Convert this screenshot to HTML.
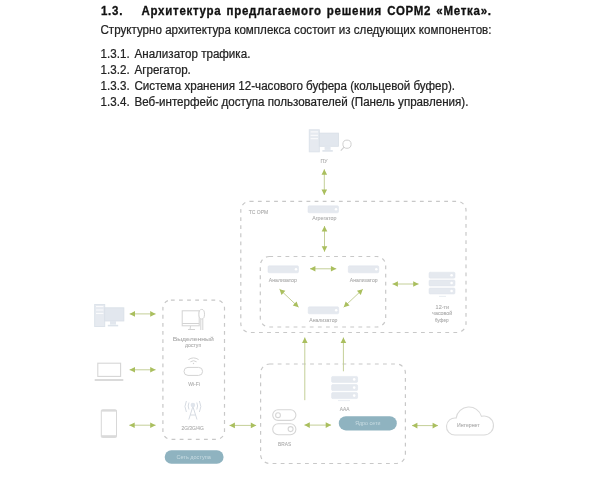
<!DOCTYPE html>
<html><head><meta charset="utf-8">
<style>
html,body{margin:0;padding:0;background:#fff;width:600px;height:489px;overflow:hidden;position:relative}
body{font-family:"Liberation Sans",sans-serif;color:#222}
.t{position:absolute;white-space:nowrap;line-height:1;transform-origin:0 0;filter:blur(0.25px)}
.h{font-weight:bold;font-size:11.5px;letter-spacing:0.72px;word-spacing:1.2px;color:#111;transform:scaleY(1.1);-webkit-text-stroke:0.3px #111}
.p{font-size:11.6px;color:#222;transform:scaleY(1.04);-webkit-text-stroke:0.22px #222}
svg{position:absolute;left:0;top:0}
</style></head><body>
<div class="t h" style="left:101px;top:5.4px">1.3.</div>
<div class="t h" style="left:141.5px;top:5.4px">Архитектура предлагаемого решения СОРМ2 «Метка».</div>
<div class="t p" style="left:100.5px;top:23.9px">Структурно архитектура комплекса состоит из следующих компонентов:</div>
<div class="t p" style="left:100.6px;top:48.3px">1.3.1.</div><div class="t p" style="left:134.5px;top:48.3px">Анализатор трафика.</div>
<div class="t p" style="left:100.6px;top:64.2px">1.3.2.</div><div class="t p" style="left:134.5px;top:64.2px">Агрегатор.</div>
<div class="t p" style="left:100.6px;top:80.0px">1.3.3.</div><div class="t p" style="left:134.5px;top:80.0px">Система хранения 12-часового буфера (кольцевой буфер).</div>
<div class="t p" style="left:100.6px;top:95.9px">1.3.4.</div><div class="t p" style="left:134.5px;top:95.9px">Веб-интерфейс доступа пользователей (Панель управления).</div>
<svg width="600" height="489" viewBox="0 0 600 489" style="filter:blur(0.55px)">

<g fill="none" stroke="#c8c8c8" stroke-width="1.2" stroke-dasharray="3.8 4.3">
<rect x="240.8" y="201.3" width="225.2" height="131.2" rx="9"/>
<rect x="260.3" y="256.5" width="125.4" height="70.5" rx="9"/>
<rect x="162.9" y="300.1" width="61.6" height="139.2" rx="8"/>
<rect x="260.6" y="364" width="144.8" height="99.5" rx="9"/>
</g>
<g stroke="#c4cf98" stroke-width="1"><line x1="324.3" y1="169.3" x2="324.3" y2="195"/><line x1="324.5" y1="226" x2="324.5" y2="251.7"/><line x1="310" y1="268.8" x2="336.3" y2="268.8"/><line x1="279.5" y1="289.2" x2="298.6" y2="307.2"/><line x1="362.8" y1="289.2" x2="343.7" y2="307.2"/><line x1="392.5" y1="284" x2="418.6" y2="284"/><line x1="129.6" y1="313.9" x2="155.6" y2="313.9"/><line x1="129.6" y1="369.8" x2="155.6" y2="369.8"/><line x1="129.3" y1="425.2" x2="155.6" y2="425.2"/><line x1="229.5" y1="425.4" x2="256.2" y2="425.4"/><line x1="304.4" y1="425.1" x2="331.1" y2="425.1"/><line x1="412" y1="425.6" x2="438" y2="425.6"/><line x1="304.8" y1="400.2" x2="304.8" y2="337.5"/><line x1="343.4" y1="371.3" x2="343.4" y2="337.5"/></g>
<path fill="#aabf5e" d="M324.30,195.00L321.50,189.60L327.10,189.60ZM324.30,169.30L327.10,174.70L321.50,174.70ZM324.50,251.70L321.70,246.30L327.30,246.30ZM324.50,226.00L327.30,231.40L321.70,231.40ZM336.30,268.80L330.90,271.60L330.90,266.00ZM310.00,268.80L315.40,266.00L315.40,271.60ZM298.60,307.20L292.75,305.53L296.59,301.46ZM279.50,289.20L285.35,290.87L281.51,294.94ZM343.70,307.20L345.71,301.46L349.55,305.53ZM362.80,289.20L360.79,294.94L356.95,290.87ZM418.60,284.00L413.20,286.80L413.20,281.20ZM392.50,284.00L397.90,281.20L397.90,286.80ZM155.60,313.90L150.20,316.70L150.20,311.10ZM129.60,313.90L135.00,311.10L135.00,316.70ZM155.60,369.80L150.20,372.60L150.20,367.00ZM129.60,369.80L135.00,367.00L135.00,372.60ZM155.60,425.20L150.20,428.00L150.20,422.40ZM129.30,425.20L134.70,422.40L134.70,428.00ZM256.20,425.40L250.80,428.20L250.80,422.60ZM229.50,425.40L234.90,422.60L234.90,428.20ZM331.10,425.10L325.70,427.90L325.70,422.30ZM304.40,425.10L309.80,422.30L309.80,427.90ZM438.00,425.60L432.60,428.40L432.60,422.80ZM412.00,425.60L417.40,422.80L417.40,428.40ZM304.80,337.50L307.60,342.90L302.00,342.90ZM343.40,337.50L346.20,342.90L340.60,342.90Z"/>
<g transform="translate(308.8,129.3)">
<rect x="0.5" y="0.5" width="10" height="22" fill="#e6eaf0" stroke="#dde3ea" stroke-width="1"/>
<rect x="10.5" y="3.8" width="19.2" height="13.2" fill="#e2e7ee" stroke="#d9dfe7" stroke-width="0.8"/>
<rect x="15.8" y="17" width="6" height="3.6" fill="#e2e7ee"/>
<rect x="13.6" y="20.8" width="10.4" height="1.6" fill="#dde3ea"/>
<g stroke="#fff" stroke-width="0.9">
<line x1="1.8" y1="2.6" x2="9.2" y2="2.6"/>
<line x1="1.8" y1="6" x2="9.2" y2="6"/>
<line x1="1.8" y1="9.4" x2="9.2" y2="9.4"/>
</g>
</g>
<circle cx="347" cy="144.2" r="4.1" fill="none" stroke="#cfcfcf" stroke-width="1"/>
<line x1="344.1" y1="147.1" x2="340.8" y2="150.6" stroke="#cfcfcf" stroke-width="1.1"/>
<g transform="translate(94.2,304)">
<rect x="0.5" y="0.5" width="10" height="22" fill="#e6eaf0" stroke="#dde3ea" stroke-width="1"/>
<rect x="10.5" y="3.8" width="19.2" height="13.2" fill="#e2e7ee" stroke="#d9dfe7" stroke-width="0.8"/>
<rect x="15.8" y="17" width="6" height="3.6" fill="#e2e7ee"/>
<rect x="13.6" y="20.8" width="10.4" height="1.6" fill="#dde3ea"/>
<g stroke="#fff" stroke-width="0.9">
<line x1="1.8" y1="2.6" x2="9.2" y2="2.6"/>
<line x1="1.8" y1="6" x2="9.2" y2="6"/>
<line x1="1.8" y1="9.4" x2="9.2" y2="9.4"/>
</g>
</g>
<g transform="translate(308,205.8)">
<rect x="0" y="0" width="30.5" height="7" rx="1.2" fill="#e5e9ef" stroke="#dde3ea" stroke-width="0.5"/>
<circle cx="28" cy="3.5" r="1.25" fill="#fff"/>
</g>
<g transform="translate(268,265.8)">
<rect x="0" y="0" width="30.5" height="7" rx="1.2" fill="#e5e9ef" stroke="#dde3ea" stroke-width="0.5"/>
<circle cx="28" cy="3.5" r="1.25" fill="#fff"/>
</g>
<g transform="translate(348.3,265.8)">
<rect x="0" y="0" width="30.5" height="7" rx="1.2" fill="#e5e9ef" stroke="#dde3ea" stroke-width="0.5"/>
<circle cx="28" cy="3.5" r="1.25" fill="#fff"/>
</g>
<g transform="translate(308.2,306.8)">
<rect x="0" y="0" width="30.5" height="7" rx="1.2" fill="#e5e9ef" stroke="#dde3ea" stroke-width="0.5"/>
<circle cx="28" cy="3.5" r="1.25" fill="#fff"/>
</g>
<g transform="translate(429,272.2)">
<rect x="0" y="0" width="26" height="6" rx="1.2" fill="#e5e9ef" stroke="#dde3ea" stroke-width="0.5"/>
<circle cx="22.6" cy="3" r="1.3" fill="#fff"/>
</g>
<g transform="translate(429,280)">
<rect x="0" y="0" width="26" height="6" rx="1.2" fill="#e5e9ef" stroke="#dde3ea" stroke-width="0.5"/>
<circle cx="22.6" cy="3" r="1.3" fill="#fff"/>
</g>
<g transform="translate(429,288)">
<rect x="0" y="0" width="26" height="6" rx="1.2" fill="#e5e9ef" stroke="#dde3ea" stroke-width="0.5"/>
<circle cx="22.6" cy="3" r="1.3" fill="#fff"/>
</g>
<line x1="439" y1="296.4" x2="446" y2="296.4" stroke="#e3e8ef" stroke-width="0.8"/>
<g transform="translate(331.6,376.4)">
<rect x="0" y="0" width="26" height="6" rx="1.2" fill="#e5e9ef" stroke="#dde3ea" stroke-width="0.5"/>
<circle cx="22.6" cy="3" r="1.3" fill="#fff"/>
</g>
<g transform="translate(331.6,384.6)">
<rect x="0" y="0" width="26" height="6" rx="1.2" fill="#e5e9ef" stroke="#dde3ea" stroke-width="0.5"/>
<circle cx="22.6" cy="3" r="1.3" fill="#fff"/>
</g>
<g transform="translate(331.6,392.6)">
<rect x="0" y="0" width="26" height="6" rx="1.2" fill="#e5e9ef" stroke="#dde3ea" stroke-width="0.5"/>
<circle cx="22.6" cy="3" r="1.3" fill="#fff"/>
</g>
<line x1="338" y1="400.6" x2="350" y2="400.6" stroke="#e3e8ef" stroke-width="0.8"/>
<!-- laptop -->
<rect x="97.8" y="363.2" width="22.8" height="13.2" fill="none" stroke="#d6d6d6" stroke-width="1.1"/>
<rect x="94.7" y="379" width="28.6" height="2" fill="#dadada"/>
<!-- phone -->
<rect x="101.3" y="409.8" width="15.2" height="27.6" rx="1" fill="none" stroke="#d8d8d8" stroke-width="1"/>
<rect x="101.3" y="409.8" width="15.2" height="1.8" fill="#dadada"/>
<rect x="101.3" y="435.2" width="15.2" height="2.2" fill="#dadada"/>
<!-- monitor with key -->
<g fill="none" stroke="#d3d3d3" stroke-width="1">
<rect x="182.2" y="310.8" width="17" height="15"/>
<line x1="182.2" y1="323.5" x2="199.2" y2="323.5"/>
<line x1="188" y1="329.5" x2="195" y2="329.5"/>
<line x1="190.5" y1="326" x2="190" y2="329.5"/>
<ellipse cx="201.7" cy="314.2" rx="2.8" ry="4.8" fill="#fff"/>
<line x1="200.8" y1="319" x2="200.8" y2="330"/>
<line x1="202.8" y1="319" x2="202.8" y2="330"/>
</g>
<!-- wifi router -->
<g fill="none" stroke="#d3d3d3" stroke-width="1">
<rect x="184" y="367.4" width="18.6" height="8" rx="4"/>
<path d="M188.4,359.6 Q193.5,356.2 198.6,359.6"/>
<path d="M190.4,361.8 Q193.5,359.6 196.6,361.8"/>
</g>
<circle cx="193.5" cy="363.5" r="0.7" fill="#d3d3d3"/>
<!-- antenna -->
<g fill="none" stroke="#d6dbe2" stroke-width="1">
<path d="M186.4,401 Q183.5,406.5 186.4,412"/>
<path d="M199.4,401 Q202.3,406.5 199.4,412"/>
<path d="M189,402.5 Q187.4,406 189,409.5"/>
<path d="M196.8,402.5 Q198.4,406 196.8,409.5"/>
<path d="M192.9,406.5 L188.8,419.5 M192.9,406.5 L197,419.5 M190.2,415 L195.6,415"/>
</g>
<circle cx="192.9" cy="405" r="2.3" fill="#e0e5ec"/>
<!-- BRAS toggles -->
<g fill="none" stroke="#d6d6d6" stroke-width="1.1">
<rect x="272.7" y="409.8" width="23.2" height="10.6" rx="5.3"/>
<rect x="272.7" y="423.7" width="23.2" height="11" rx="5.5"/>
<circle cx="278" cy="415.2" r="2.4"/>
<circle cx="290.6" cy="429.1" r="2.5"/>
</g>
<!-- cloud -->
<path d="M455,435 H484 A9.5,9.5 0 1 0 481.47,416.34 A13,13 0 0 0 456.14,418.08 A8.5,8.5 0 1 0 455,435 Z" fill="none" stroke="#dadada" stroke-width="1.1"/>
<!-- buttons -->
<rect x="164.7" y="450.2" width="58.9" height="13.5" rx="6.7" fill="#8fb3c0"/>
<rect x="338.8" y="416.3" width="58" height="14.1" rx="7" fill="#8fb3c0"/>
<g font-family="Liberation Sans" fill="#c9dce2"><text x="176.48" y="458.85" font-size="5.40" textLength="34.36" lengthAdjust="spacingAndGlyphs">Сеть доступа</text>
<text x="355.18" y="425.05" font-size="5.32" textLength="25.21" lengthAdjust="spacingAndGlyphs">Ядро сети</text></g>
<g font-family="Liberation Sans" fill="#a6a6a6" stroke="#b8b8b8" stroke-width="0.1"><text x="320.44" y="162.75" font-size="5.16" textLength="6.98" lengthAdjust="spacingAndGlyphs">ПУ</text>
<text x="248.65" y="214.15" font-size="5.05" textLength="19.59" lengthAdjust="spacingAndGlyphs">ТС ОРМ</text>
<text x="312.15" y="220.25" font-size="5.31" textLength="24.31" lengthAdjust="spacingAndGlyphs">Агрегатор</text>
<text x="268.85" y="282.25" font-size="5.10" textLength="27.90" lengthAdjust="spacingAndGlyphs">Анализатор</text>
<text x="349.75" y="282.15" font-size="5.08" textLength="27.80" lengthAdjust="spacingAndGlyphs">Анализатор</text>
<text x="309.25" y="321.75" font-size="5.14" textLength="28.10" lengthAdjust="spacingAndGlyphs">Анализатор</text>
<text x="435.62" y="308.75" font-size="5.40" textLength="13.52" lengthAdjust="spacingAndGlyphs">12-ти</text>
<text x="432.13" y="315.25" font-size="5.34" textLength="20.19" lengthAdjust="spacingAndGlyphs">часовой</text>
<text x="434.77" y="321.75" font-size="4.70" textLength="13.89" lengthAdjust="spacingAndGlyphs">буфер</text>
<text x="172.65" y="340.75" font-size="5.00" textLength="41.07" lengthAdjust="spacingAndGlyphs">Выделенный</text>
<text x="185.10" y="347.25" font-size="5.11" textLength="16.11" lengthAdjust="spacingAndGlyphs">доступ</text>
<text x="188.20" y="386.15" font-size="5.02" textLength="11.71" lengthAdjust="spacingAndGlyphs">Wi-Fi</text>
<text x="181.51" y="430.45" font-size="4.88" textLength="22.22" lengthAdjust="spacingAndGlyphs">2G/3G/4G</text>
<text x="278.07" y="445.65" font-size="4.81" textLength="13.09" lengthAdjust="spacingAndGlyphs">BRAS</text>
<text x="339.85" y="410.55" font-size="4.85" textLength="9.71" lengthAdjust="spacingAndGlyphs">AAA</text>
<text x="457.04" y="427.35" font-size="5.18" textLength="22.58" lengthAdjust="spacingAndGlyphs">Интернет</text></g>

</svg>

</body></html>
